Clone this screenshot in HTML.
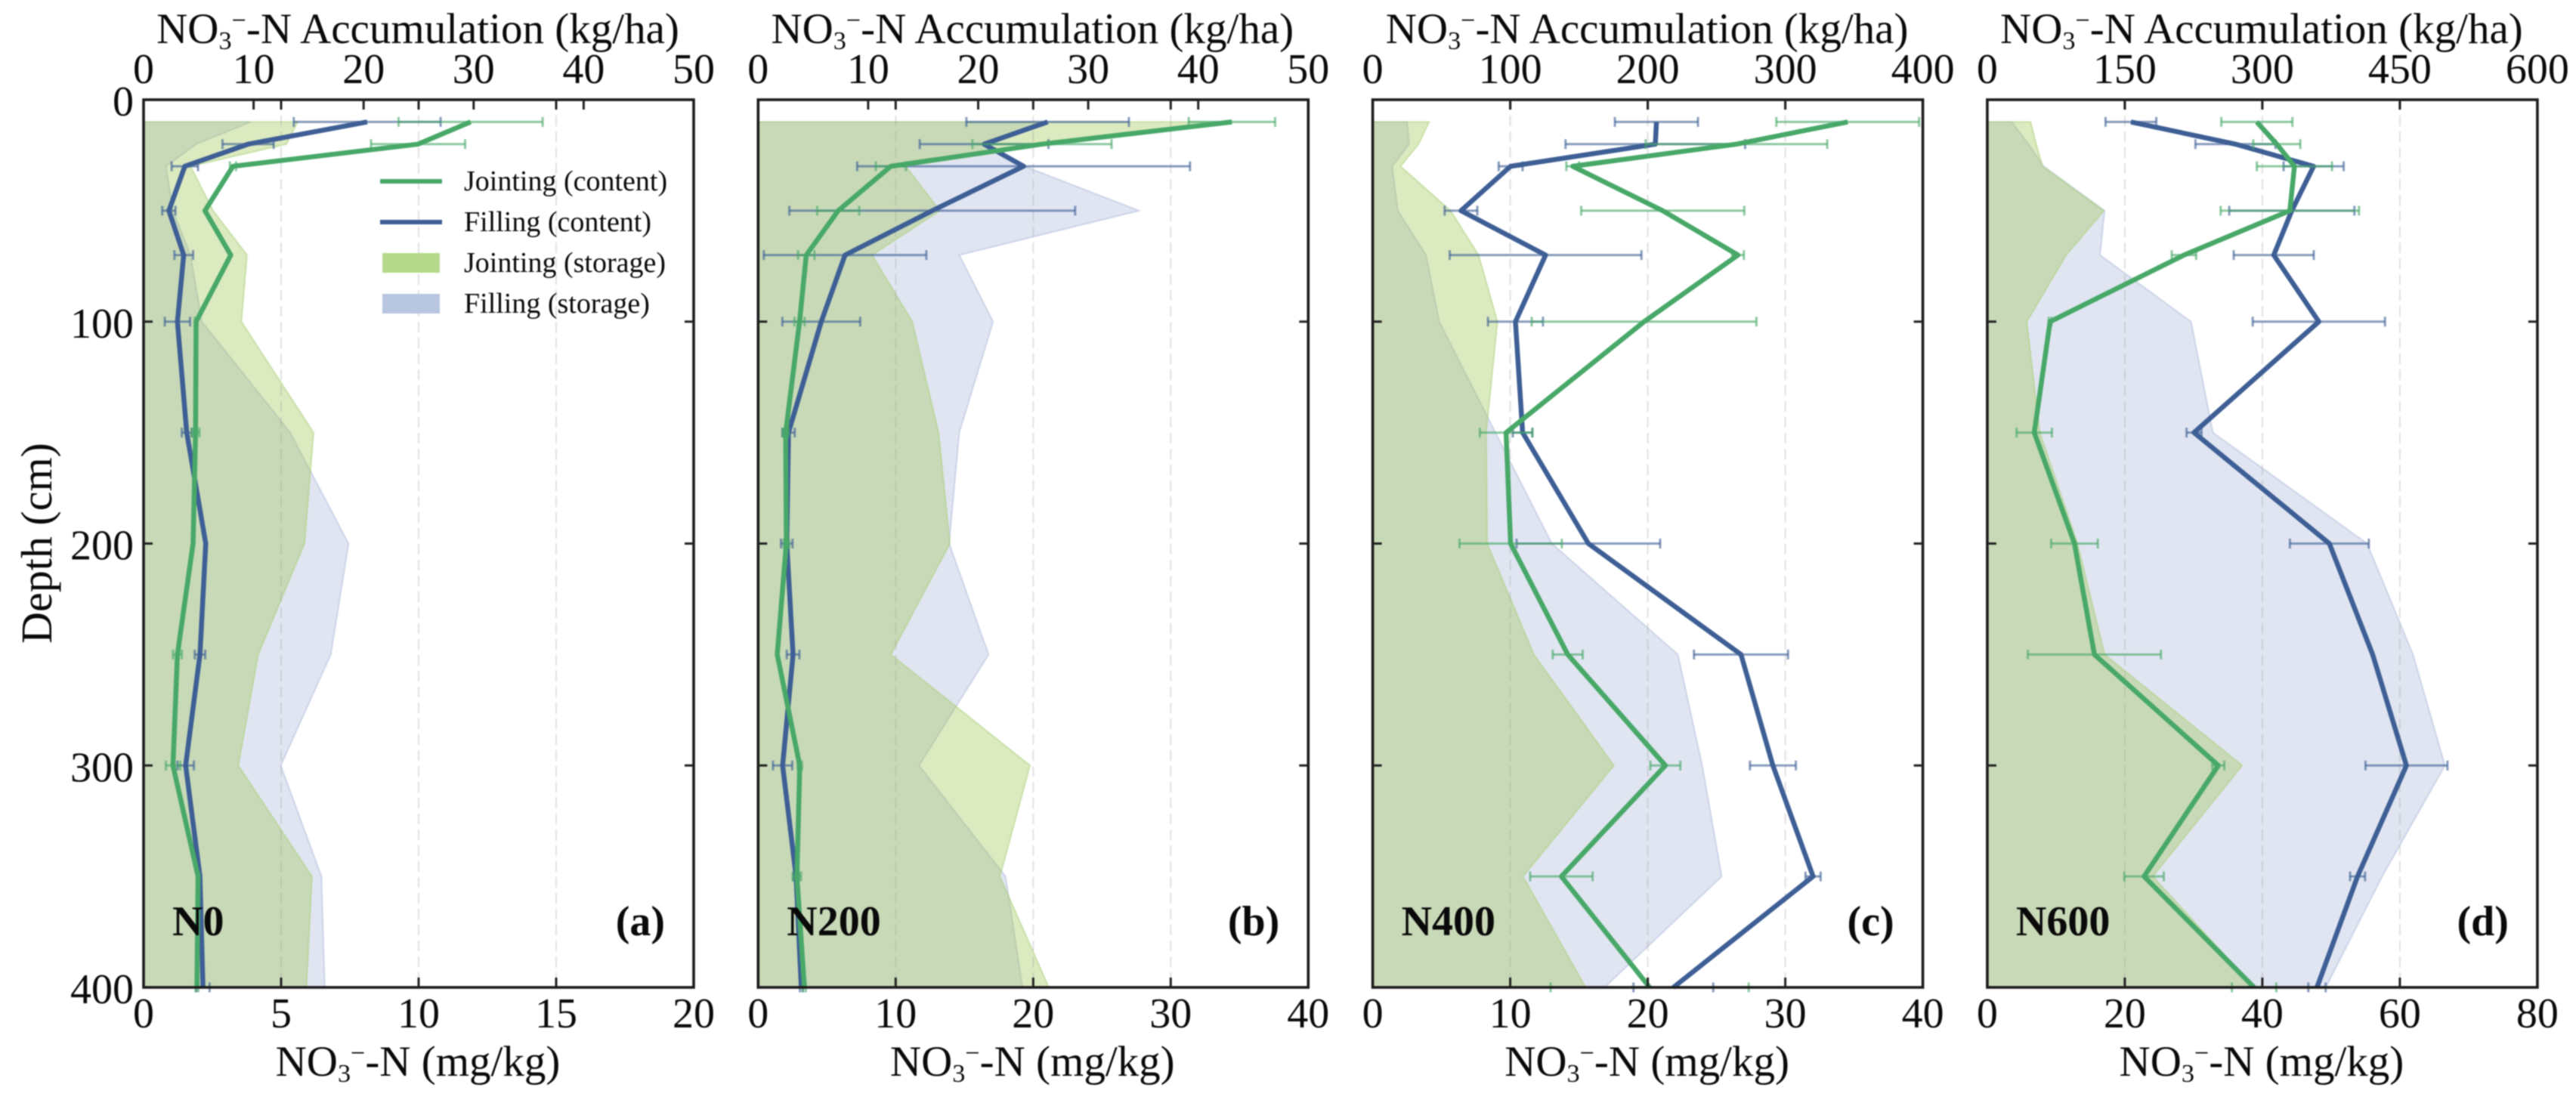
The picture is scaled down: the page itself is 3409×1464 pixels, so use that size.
<!DOCTYPE html>
<html lang="en">
<head>
<meta charset="utf-8">
<title>NO3-N content and storage by depth</title>
<style>
html,body{margin:0;padding:0;background:#fff;}
svg{display:block;}
text{font-family:"Liberation Serif","Times New Roman",serif;fill:#0a0a0a;}
</style>
</head>
<body>
<svg id="chart" xmlns="http://www.w3.org/2000/svg" width="3409" height="1464" viewBox="0 0 3409 1464">
<rect x="0" y="0" width="3409" height="1464" fill="#fff"/>
<g id="plot" style="filter:blur(0.7px)"></g>
</svg>
<script>
const depths = [10, 20, 30, 50, 70, 100, 150, 200, 250, 300, 350, 400];
const depthTicks = [0, 100, 200, 300, 400];

const n0JointingContent = [11.89, 9.98, 3.25, 2.23, 3.17, 1.91, 1.89, 1.80, 1.23, 1.07, 1.98, 1.94];
const n0FillingContent = [8.13, 3.80, 1.50, 0.92, 1.46, 1.23, 1.57, 2.26, 2.05, 1.53, 2.05, 2.16];
const n0JointingError = [2.62, 1.71, 0.11, 0, 0, 0.05, 0.14, 0, 0.16, 0.26, 0.05, 0.05];
const n0FillingError = [2.67, 0.93, 0.48, 0.24, 0.34, 0.46, 0.18, 0, 0.19, 0.30, 0, 0.24];
const n0JointingStorage = [14.01, 12.99, 4.27, 6.32, 9.40, 8.89, 15.45, 14.63, 10.42, 8.61, 15.31, 14.80];
const n0FillingStorage = [9.74, 4.78, 2.05, 2.67, 4.27, 5.30, 13.33, 18.63, 17.02, 12.47, 16.17, 16.47];

const n200JointingContent = [34.45, 20.64, 9.65, 5.82, 3.50, 3.01, 2.00, 2.05, 1.39, 3.03, 2.82, 3.36];
const n200FillingContent = [21.05, 16.43, 19.30, 12.66, 6.32, 4.59, 2.21, 2.08, 2.54, 1.78, 2.76, 3.14];
const n200JointingError = [3.14, 5.06, 1.09, 1.53, 0.60, 0.37, 0.22, 0.20, 0, 0.16, 0.30, 0.10];
const n200FillingError = [5.91, 4.68, 12.10, 10.39, 5.91, 2.83, 0.45, 0.42, 0.46, 0.70, 0.20, 0.10];
const n200JointingStorage = [43.06, 26.66, 13.43, 16.51, 10.36, 14.01, 16.40, 17.43, 12.06, 24.71, 21.98, 26.42];
const n200FillingStorage = [26.42, 20.95, 24.20, 34.62, 18.28, 21.36, 18.28, 17.36, 20.95, 14.63, 22.49, 24.03];

const n400JointingContent = [34.54, 26.45, 14.54, 21.09, 26.56, 19.73, 9.70, 10.03, 14.18, 21.28, 13.72, 20.14];
const n400FillingContent = [20.63, 20.55, 10.03, 6.42, 12.57, 10.38, 10.90, 15.68, 26.78, 29.10, 32.02, 21.86];
const n400JointingError = [5.19, 6.60, 0.46, 5.93, 0.43, 8.17, 1.91, 3.72, 1.09, 1.09, 2.27, 7.20];
const n400FillingError = [3.02, 6.53, 0.87, 1.19, 6.97, 2.00, 0.71, 5.22, 3.42, 1.67, 0.55, 2.90];
const n400JointingStorage = [41.0, 33.3, 20.2, 56.6, 77.0, 90.7, 82.5, 83.3, 117.2, 175.4, 109.3, 154.9];
const n400FillingStorage = [25.1, 26.5, 14.2, 18.3, 38.8, 48.4, 89.3, 130.3, 221.9, 239.6, 253.8, 168.6];

const n600JointingContent = [39.2, 42.1, 44.67, 44.0, 28.6, 9.13, 6.83, 12.68, 15.58, 33.6, 22.8, 38.8];
const n600FillingContent = [20.89, 36.09, 47.46, 44.29, 41.66, 48.22, 30.07, 49.75, 56.04, 60.96, 53.85, 47.95];
const n600JointingError = [5.17, 3.42, 5.47, 10.06, 1.78, 0.2, 2.57, 3.39, 9.68, 0.87, 2.87, 3.23];
const n600FillingError = [3.69, 5.82, 4.37, 9.10, 5.82, 9.62, 1.09, 5.74, 0, 5.96, 1.09, 1.26];
const n600JointingStorage = [47.2, 53.3, 60.3, 127.2, 86.1, 43.1, 57.4, 98.4, 128.0, 278.1, 180.5, 291.2];
const n600FillingStorage = [26.7, 45.1, 61.5, 128.0, 123.0, 222.3, 246.1, 414.3, 464.3, 499.2, 430.7, 369.2];

const n0BottomTicks = [0, 5, 10, 15, 20];
const n0TopTicks = [0, 10, 20, 30, 40, 50];
const n200BottomTicks = [0, 10, 20, 30, 40];
const n200TopTicks = [0, 10, 20, 30, 40, 50];
const n400BottomTicks = [0, 10, 20, 30, 40];
const n400TopTicks = [0, 100, 200, 300, 400];
const n600BottomTicks = [0, 20, 40, 60, 80];
const n600TopTicks = [0, 150, 300, 450, 600];

const panels = [
  {key:'n0', label:'N0', letter:'(a)', jc:n0JointingContent, fc:n0FillingContent, je:n0JointingError, fe:n0FillingError, js:n0JointingStorage, fs:n0FillingStorage, bt:n0BottomTicks, tt:n0TopTicks},
  {key:'n200', label:'N200', letter:'(b)', jc:n200JointingContent, fc:n200FillingContent, je:n200JointingError, fe:n200FillingError, js:n200JointingStorage, fs:n200FillingStorage, bt:n200BottomTicks, tt:n200TopTicks},
  {key:'n400', label:'N400', letter:'(c)', jc:n400JointingContent, fc:n400FillingContent, je:n400JointingError, fe:n400FillingError, js:n400JointingStorage, fs:n400FillingStorage, bt:n400BottomTicks, tt:n400TopTicks},
  {key:'n600', label:'N600', letter:'(d)', jc:n600JointingContent, fc:n600FillingContent, je:n600JointingError, fe:n600FillingError, js:n600JointingStorage, fs:n600FillingStorage, bt:n600BottomTicks, tt:n600TopTicks}
];

const legendLabels = ['Jointing (content)', 'Filling (content)', 'Jointing (storage)', 'Filling (storage)'];

const SVGNS = 'http://www.w3.org/2000/svg';
const root = document.getElementById('plot');
const FRAME_LEFT = 190, FRAME_WIDTH = 728, FRAME_STEP = 813.3, FRAME_TOP = 132, FRAME_BOTTOM = 1307;
const GREEN = '#47a868', BLUE = '#3e5f95';

function make(tag, attrs, parent) {
  const el = document.createElementNS(SVGNS, tag);
  for (const k in attrs) el.setAttribute(k, attrs[k]);
  parent.appendChild(el);
  return el;
}
function depthY(d) {
  return FRAME_TOP + (d / 400) * (FRAME_BOTTOM - FRAME_TOP);
}
function linearX(left, ticks) {
  const max = ticks[ticks.length - 1];
  return function (v) { return left + (v / max) * FRAME_WIDTH; };
}
function axisTitle(parent, x, y, rest, size) {
  const t = make('text', {x: x, y: y, 'text-anchor': 'middle', 'font-size': size}, parent);
  const a = make('tspan', {}, t);
  a.textContent = 'NO';
  const sub = make('tspan', {dy: 8, 'font-size': size * 0.6}, t);
  sub.textContent = '3';
  const sup = make('tspan', {dy: -27, 'font-size': size * 0.6}, t);
  sup.textContent = '\u2212';
  const b = make('tspan', {dy: 19}, t);
  b.textContent = '-N ' + rest;
  return t;
}

panels.forEach(function (p, i) {
  const left = FRAME_LEFT + i * FRAME_STEP;
  const right = left + FRAME_WIDTH;
  const xb = linearX(left, p.bt);
  const xt = linearX(left, p.tt);
  const g = make('g', {}, root);
  
  

  const fPts = p.fs.map(function (v, k) { return xt(v).toFixed(1) + ',' + depthY(depths[k]).toFixed(1); });
  const fArea = make('polygon', {
    points: xt(0) + ',' + depthY(depths[0]) + ' ' + fPts.join(' ') + ' ' + xt(0) + ',' + depthY(400),
    fill: 'rgb(100,125,185)', 'fill-opacity': 0.2, stroke: 'rgb(130,150,200)', 'stroke-opacity': 0.3, 'stroke-width': 2
  }, g);
  
  

  const jPts = p.js.map(function (v, k) { return xt(v).toFixed(1) + ',' + depthY(depths[k]).toFixed(1); });
  const jArea = make('polygon', {
    points: xt(0) + ',' + depthY(depths[0]) + ' ' + jPts.join(' ') + ' ' + xt(0) + ',' + depthY(400),
    fill: 'rgb(155,195,75)', 'fill-opacity': 0.35, stroke: 'rgb(168,208,120)', 'stroke-opacity': 0.5, 'stroke-width': 2
  }, g);
  
  

  p.bt.slice(1, -1).forEach(function (v) {
    const grid = make('line', {x1: xb(v), x2: xb(v), y1: FRAME_TOP, y2: FRAME_BOTTOM, stroke: '#9a9a9a', 'stroke-opacity': 0.3, 'stroke-width': 2, 'stroke-dasharray': '14 7'}, g);
    
    
  });

  [['filling', p.fc, p.fe, BLUE], ['jointing', p.jc, p.je, GREEN]].forEach(function (s) {
    const series = make('g', {}, g);
    
    
    s[1].forEach(function (v, k) {
      const e = s[2][k];
      if (!e) return;
      const y = depthY(depths[k]);
      const eb = make('g', {stroke: s[3], 'stroke-opacity': 0.62, 'stroke-width': 3, fill: 'none'}, series);
      
      
      make('line', {x1: xb(v - e), x2: xb(v + e), y1: y, y2: y}, eb);
      make('line', {x1: xb(v - e), x2: xb(v - e), y1: y - 6.5, y2: y + 6.5}, eb);
      make('line', {x1: xb(v + e), x2: xb(v + e), y1: y - 6.5, y2: y + 6.5}, eb);
    });
    const pts = s[1].map(function (v, k) { return xb(v).toFixed(1) + ',' + depthY(depths[k]).toFixed(1); }).join(' ');
    const line = make('polyline', {points: pts, fill: 'none', stroke: s[3], 'stroke-width': 6.5, 'stroke-linejoin': 'round', 'stroke-linecap': 'butt'}, series);
    
    
  });

  const frame = make('rect', {x: left, y: FRAME_TOP, width: FRAME_WIDTH, height: FRAME_BOTTOM - FRAME_TOP, fill: 'none', stroke: '#1c1c1c', 'stroke-width': 3.6}, g);
  
  

  p.bt.forEach(function (v, k) {
    const x = xb(v);
    if (k > 0 && k < p.bt.length - 1) {
      const t1 = make('line', {x1: x, x2: x, y1: FRAME_BOTTOM, y2: FRAME_BOTTOM - 13, stroke: '#222', 'stroke-width': 3}, g);
      
      
      const t2 = make('line', {x1: x, x2: x, y1: FRAME_TOP, y2: FRAME_TOP + 13, stroke: '#222', 'stroke-width': 3}, g);
      
      
    }
    const lab = make('text', {x: x, y: 1360, 'text-anchor': 'middle', 'font-size': 56}, g);
    
    
    lab.textContent = String(v);
  });

  p.tt.forEach(function (v, k) {
    const x = xt(v);
    if (k > 0 && k < p.tt.length - 1) {
      const t = make('line', {x1: x, x2: x, y1: FRAME_TOP, y2: FRAME_TOP + 13, stroke: '#222', 'stroke-width': 3}, g);
      
      
    }
    const lab = make('text', {x: x, y: 110, 'text-anchor': 'middle', 'font-size': 56}, g);
    
    
    lab.textContent = String(v);
  });

  depthTicks.forEach(function (d, k) {
    const y = depthY(d);
    if (k > 0 && k < depthTicks.length - 1) {
      const tl = make('line', {x1: left, x2: left + 12, y1: y, y2: y, stroke: '#222', 'stroke-width': 3}, g);
      
      
      const tr = make('line', {x1: right, x2: right - 12, y1: y, y2: y, stroke: '#222', 'stroke-width': 3}, g);
      
      
    }
    if (i === 0) {
      const lab = make('text', {x: 177, y: y + 21, 'text-anchor': 'end', 'font-size': 56}, g);
      
      
      lab.textContent = String(d);
    }
  });

  const topTitle = axisTitle(g, left + FRAME_WIDTH / 2 - 1, 57, 'Accumulation (kg/ha)', 57);
  
  
  const bottomTitle = axisTitle(g, left + FRAME_WIDTH / 2 - 1, 1424, '(mg/kg)', 57);
  
  

  const tag = make('text', {x: left + 38, y: 1238, 'font-size': 56, 'font-weight': 'bold'}, g);
  
  
  tag.textContent = p.label;
  const letter = make('text', {x: right - 38, y: 1238, 'text-anchor': 'end', 'font-size': 56, 'font-weight': 'bold'}, g);
  
  
  letter.textContent = p.letter;
});

const depthTitle = make('text', {x: 0, y: 0, transform: 'translate(68,719) rotate(-90)', 'text-anchor': 'middle', 'font-size': 58}, root);


depthTitle.textContent = 'Depth (cm)';

const legend = make('g', {}, root);


legendLabels.forEach(function (name, k) {
  const y = 240 + k * 54;
  const entry = make('g', {}, legend);
  
  
  if (k < 2) {
    const sw = make('line', {x1: 503, x2: 585, y1: y, y2: y, stroke: k === 0 ? GREEN : BLUE, 'stroke-width': 6}, entry);
    
    
  } else {
    const sw = make('rect', {x: 506, y: y - 13, width: 76, height: 26, fill: k === 2 ? 'rgb(183,217,139)' : 'rgb(184,198,224)'}, entry);
    
    
  }
  const t = make('text', {x: 614, y: y + 12, 'font-size': 38}, entry);
  
  
  t.textContent = name;
});
</script>
</body>
</html>
